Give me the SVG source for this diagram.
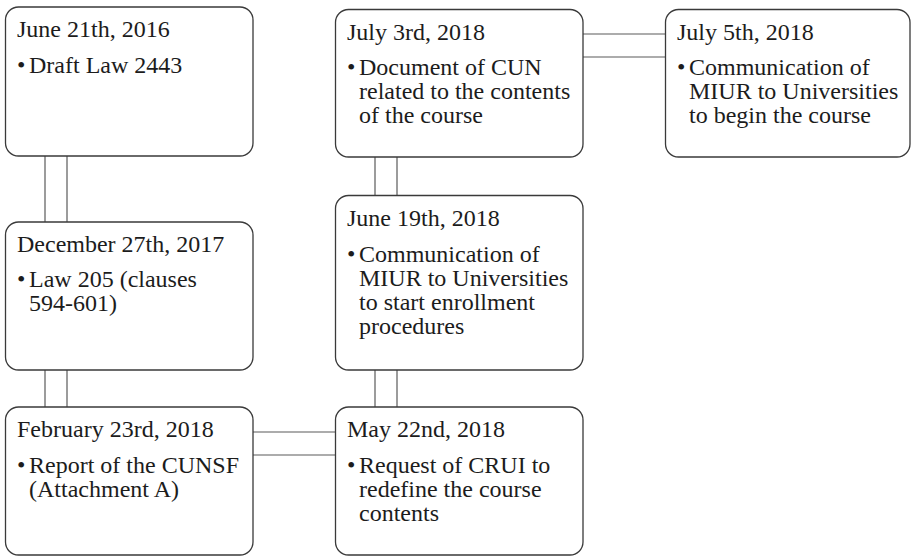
<svg xmlns="http://www.w3.org/2000/svg" width="912" height="557" viewBox="0 0 912 557">
  <style>
    .box { fill: #ffffff; stroke: #3a3a3a; stroke-width: 1.3; }
    .link { stroke: #5a5a5a; stroke-width: 1.2; fill: none; }
    text { font-family: "Liberation Serif", "Times New Roman", serif; font-size: 24px; fill: #1c1c1c; }
  </style>
  <rect x="0" y="0" width="912" height="557" fill="#ffffff"/>

  <!-- double-line connectors between the timeline boxes -->
  <g id="connectors">
    <line class="link" x1="45" y1="156" x2="45" y2="222"/>
    <line class="link" x1="67" y1="156" x2="67" y2="222"/>
    <line class="link" x1="45" y1="370" x2="45" y2="407"/>
    <line class="link" x1="67" y1="370" x2="67" y2="407"/>
    <line class="link" x1="253" y1="432" x2="335" y2="432"/>
    <line class="link" x1="253" y1="455" x2="335" y2="455"/>
    <line class="link" x1="375" y1="370" x2="375" y2="407"/>
    <line class="link" x1="397" y1="370" x2="397" y2="407"/>
    <line class="link" x1="375" y1="157" x2="375" y2="195"/>
    <line class="link" x1="397" y1="157" x2="397" y2="195"/>
    <line class="link" x1="583" y1="34" x2="665" y2="34"/>
    <line class="link" x1="583" y1="57" x2="665" y2="57"/>
  </g>

  <g id="n-2016-06-21">
    <rect class="box" x="5.5" y="7" width="247.5" height="149" rx="13"/>
    <text x="17" y="37">June 21th, 2016</text>
    <text x="17" y="73">•</text>
    <text x="29" y="73">Draft Law 2443</text>
  </g>

  <g id="n-2017-12-27">
    <rect class="box" x="5.5" y="222" width="247.5" height="148" rx="13"/>
    <text x="17" y="252">December 27th, 2017</text>
    <text x="17" y="287">•</text>
    <text x="29" y="287">Law 205 (clauses</text>
    <text x="29" y="311">594-601)</text>
  </g>

  <g id="n-2018-02-23">
    <rect class="box" x="5.5" y="407" width="247.5" height="148" rx="13"/>
    <text x="17" y="437">February 23rd, 2018</text>
    <text x="17" y="473">•</text>
    <text x="29" y="473">Report of the CUNSF</text>
    <text x="29" y="497">(Attachment A)</text>
  </g>

  <g id="n-2018-05-22">
    <rect class="box" x="335.5" y="407" width="247.5" height="148" rx="13"/>
    <text x="347" y="437">May 22nd, 2018</text>
    <text x="347" y="473">•</text>
    <text x="359" y="473">Request of CRUI to</text>
    <text x="359" y="497">redefine the course</text>
    <text x="359" y="521">contents</text>
  </g>

  <g id="n-2018-06-19">
    <rect class="box" x="335.5" y="195.5" width="247.5" height="174.5" rx="13"/>
    <text x="347" y="226">June 19th, 2018</text>
    <text x="347" y="262">•</text>
    <text x="359" y="262">Communication of</text>
    <text x="359" y="286">MIUR to Universities</text>
    <text x="359" y="310">to start enrollment</text>
    <text x="359" y="334">procedures</text>
  </g>

  <g id="n-2018-07-03">
    <rect class="box" x="335.5" y="9.5" width="247.5" height="147.5" rx="13"/>
    <text x="347" y="40">July 3rd, 2018</text>
    <text x="347" y="75">•</text>
    <text x="359" y="75">Document of CUN</text>
    <text x="359" y="99">related to the contents</text>
    <text x="359" y="123">of the course</text>
  </g>

  <g id="n-2018-07-05">
    <rect class="box" x="665.5" y="9.5" width="244.5" height="147.5" rx="13"/>
    <text x="677" y="40">July 5th, 2018</text>
    <text x="677" y="75">•</text>
    <text x="689" y="75">Communication of</text>
    <text x="689" y="99">MIUR to Universities</text>
    <text x="689" y="123">to begin the course</text>
  </g>
</svg>
